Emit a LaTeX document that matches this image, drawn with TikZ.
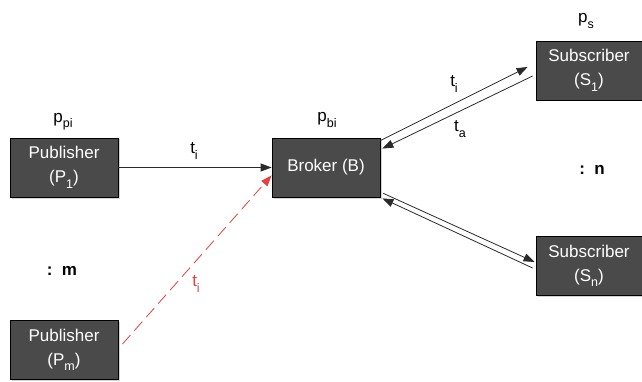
\documentclass[tikz,border=0pt]{standalone}
\usepackage{fontspec}
\setmainfont{Liberation Sans}
\usetikzlibrary{arrows.meta,calc,shadows}
\definecolor{boxgray}{HTML}{4A4A4A}
\definecolor{linegray}{HTML}{2A2A2A}
\definecolor{msgred}{HTML}{E8403C}
\newcommand\mysub[1]{\raisebox{-0.32em}{\fontsize{12.5}{12.5}\selectfont #1}}
\begin{document}
\begin{tikzpicture}[x=1pt,y=-1pt,
  box/.style={draw=black, line width=0.8pt, fill=boxgray, text=white,
    minimum width=108pt, minimum height=59pt, align=center, inner sep=0pt,
    font=\fontsize{17}{24}\selectfont,
    drop shadow={shadow xshift=1.5pt,shadow yshift=-1.5pt,opacity=0.35}},
  lbl/.style={font=\fontsize{17}{20}\selectfont, inner sep=0pt},
  conn/.style={draw=linegray, line width=0.8pt, -{Triangle[length=11pt,width=8pt]}},
  ]
\useasboundingbox (0,0) rectangle (642,382);
% boxes
\node[box] (P1) at (64,167.5) {Publisher\\(P\mysub{1})};
\node[box] (Pm) at (64,350) {Publisher\\(P\mysub{m})};
\node[box] (B) at (326,167.5) {Broker (B)};
\node[box, minimum width=106pt] (S1) at (589,70.5) {Subscriber\\(S\mysub{1})};
\node[box, minimum width=106pt] (Sn) at (589,266) {Subscriber\\(S\mysub{n})};
% labels
\node[lbl] (lppi) at (63,122) {p\mysub{pi}};
\node[lbl] (lpbi) at (327,120) {p\mysub{bi}};
\node[lbl] (lps) at (586,21) {p\mysub{s}};
\node[lbl] (lm) at (62,271) {\textbf{:\ \ m}};
\node[lbl] (ln) at (592,170) {\textbf{:\ \ n}};
\node[lbl] (lt1) at (194,151) {t\mysub{i}};
\node[lbl, text=msgred] (lt2) at (196,284) {t\mysub{i}};
\node[lbl] (lt3) at (454,84) {t\mysub{i}};
\node[lbl] (lt4) at (460,129) {t\mysub{a}};
% connectors
\draw[conn] (P1.east) -- (B.west);
\draw[conn, draw=msgred, dash pattern=on 12pt off 6pt]
  ($(Pm.north east)+(4,24)$) -- ($(B.south west)+(0,-22)$);
\draw[conn] ($(B.north east)+(0,3)$) -- ($(S1.west)+(-8,-3.5)$);
\draw[conn] ($(S1.west)+(-3,5.5)$) -- ($(B.north east)+(2,11)$);
\draw[conn] ($(B.south east)+(3,-4)$) -- ($(Sn.west)+(-1,-4)$);
\draw[conn] ($(Sn.west)+(-3,2)$) -- ($(B.south east)+(2,1)$);
\end{tikzpicture}
\end{document}
